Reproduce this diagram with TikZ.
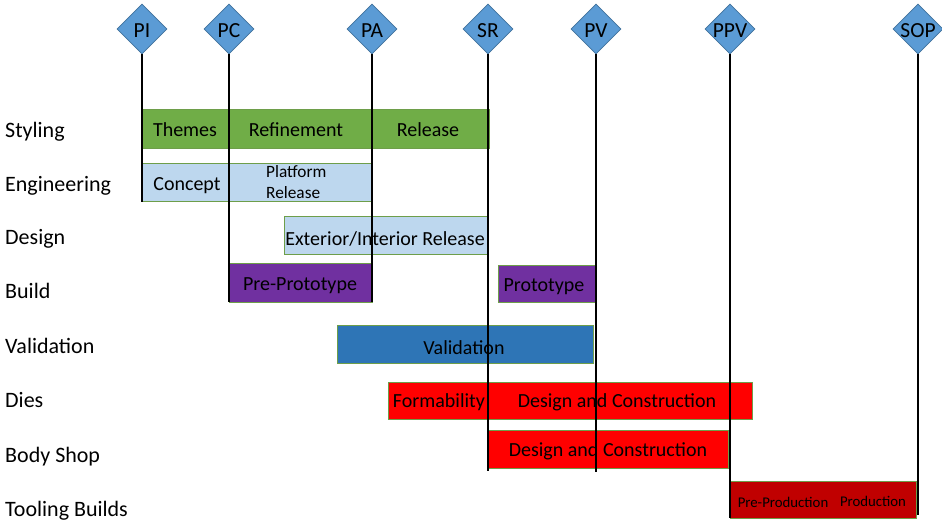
\documentclass[tikz,border=0pt]{standalone}
\usepackage{fontspec}
\setmainfont{Carlito}
\usetikzlibrary{shapes.geometric}

\definecolor{gateblue}{HTML}{5B9BD5}
\definecolor{gateedge}{HTML}{41719C}
\definecolor{stylegreen}{HTML}{70AD47}
\definecolor{barline}{HTML}{6E9E4A}
\definecolor{engblue}{HTML}{BDD7EE}
\definecolor{buildpurple}{HTML}{7030A0}
\definecolor{valblue}{HTML}{2E75B6}
\definecolor{diesred}{HTML}{FF0000}
\definecolor{toolred}{HTML}{C00000}

\tikzset{
  gate/.style={diamond, aspect=1, minimum width=50pt, minimum height=50pt,
    inner sep=0pt, fill=gateblue, draw=gateedge, line width=0.6pt},
  gatetext/.style={inner sep=0pt, anchor=base,
    font=\fontsize{21.5}{24}\selectfont},
  vline/.style={line width=1.7pt, black},
  bar/.style={rectangle, draw=barline, line width=0.8pt, inner sep=0pt,
    anchor=north west},
  bartext/.style={inner sep=0pt, anchor=base,
    font=\fontsize{20}{22}\selectfont},
  smalltext/.style={inner sep=0pt, anchor=base,
    font=\fontsize{14.8}{16}\selectfont},
  rowlabel/.style={anchor=base west, inner sep=0pt,
    font=\fontsize{22}{24}\selectfont},
}

\begin{document}
\begin{tikzpicture}[x=1pt, y=-1pt]
\useasboundingbox (0,0) rectangle (942,523);

% row labels
\node[rowlabel] (lstyling) at (5,137) {Styling};
\node[rowlabel] (leng)     at (5,191) {Engineering};
\node[rowlabel] (ldesign)  at (5,244) {Design};
\node[rowlabel] (lbuild)   at (5,298) {Build};
\node[rowlabel] (lval)     at (5,353) {Validation};
\node[rowlabel] (ldies)    at (5,407) {Dies};
\node[rowlabel] (lbody)    at (5,462) {Body Shop};
\node[rowlabel] (ltool)    at (5,516) {Tooling Builds};

% styling
\node[bar, fill=stylegreen, minimum width=87pt, minimum height=39pt] (themes) at (142,109) {};
\node[bar, fill=stylegreen, minimum width=143pt, minimum height=39pt] (refine) at (229,109) {};
\node[bar, fill=stylegreen, minimum width=117pt, minimum height=39pt] (release) at (372,109) {};
\node[bartext] (themest)  at (185,136) {Themes};
\node[bartext] (refinet)  at (296,136) {Refinement};
\node[bartext] (releaset) at (428,136) {Release};

% engineering
\node[bar, fill=engblue, minimum width=87pt, minimum height=38pt] (concept) at (142,163) {};
\node[bar, fill=engblue, minimum width=142pt, minimum height=38pt] (platform) at (229,163) {};
\node[bartext] (conceptt) at (187,190) {Concept};
\node[anchor=base west, inner sep=0pt, font=\fontsize{17.3}{20}\selectfont]
  (platformt) at (266,177) {Platform};
\node[anchor=base west, inner sep=0pt, font=\fontsize{17.3}{20}\selectfont]
  (platformr) at (266,198) {Release};

% design
\node[bar, fill=engblue, minimum width=204pt, minimum height=38pt] (design) at (284,216) {};
\node[bartext] (designt) at (385,245) {Exterior/Interior Release};

% build
\node[bar, fill=buildpurple, minimum width=143pt, minimum height=39pt] (preproto) at (229,263) {};
\node[bartext] (preprotot) at (300,290) {Pre-Prototype};
\node[bar, fill=buildpurple, minimum width=97pt, minimum height=37pt] (proto) at (498,265) {};
\node[bartext] (protot) at (544,291) {Prototype};

% validation
\node[bar, fill=valblue, minimum width=256pt, minimum height=38pt] (valid) at (337,325) {};
\node[bartext] (validt) at (464,354) {Validation};

% dies
\node[bar, fill=diesred, minimum width=364pt, minimum height=37pt] (dies) at (388,382) {};
\node[bartext] (diesa) at (439,407) {Formability};
\node[bartext] (diesb) at (617,407) {Design and Construction};

% body shop
\node[bar, fill=diesred, minimum width=240pt, minimum height=38pt] (body) at (488,430) {};
\node[bartext] (bodyt) at (608,456) {Design and Construction};

% tooling builds
\node[bar, fill=toolred, minimum width=186pt, minimum height=37pt] (tool) at (730,481) {};
\node[smalltext] (toola) at (783,507) {Pre-Production};
\node[smalltext] (toolb) at (873,506) {Production};

% milestone gates
\node[gate] (pi)  at (142,29) {};
\node[gate] (pc)  at (229,29) {};
\node[gate] (pa)  at (372,29) {};
\node[gate] (sr)  at (488,29) {};
\node[gate] (pv)  at (596,29) {};
\node[gate] (ppv) at (730,29) {};
\node[gate] (sop) at (918,29) {};
\node[gatetext] (pit)  at (142,37) {PI};
\node[gatetext] (pct)  at (229,37) {PC};
\node[gatetext] (pat)  at (372,37) {PA};
\node[gatetext] (srt)  at (488,37) {SR};
\node[gatetext] (pvt)  at (596,37) {PV};
\node[gatetext] (ppvt) at (730,37) {PPV};
\node[gatetext] (sopt) at (918,37) {SOP};

% ends of the milestone lines
\coordinate (piend)  at (142,202);
\coordinate (pcend)  at (229,302);
\coordinate (paend)  at (372,302);
\coordinate (srend)  at (488,471);
\coordinate (pvend)  at (596,472);
\coordinate (ppvend) at (730,518);
\coordinate (sopend) at (918,515);

% milestone lines, drawn over the bars
\draw[vline] (pi.south)  -- (piend);
\draw[vline] (pc.south)  -- (pcend);
\draw[vline] (pa.south)  -- (paend);
\draw[vline] (sr.south)  -- (srend);
\draw[vline] (pv.south)  -- (pvend);
\draw[vline] (ppv.south) -- (ppvend);
\draw[vline] (sop.south) -- (sopend);
\end{tikzpicture}
\end{document}
